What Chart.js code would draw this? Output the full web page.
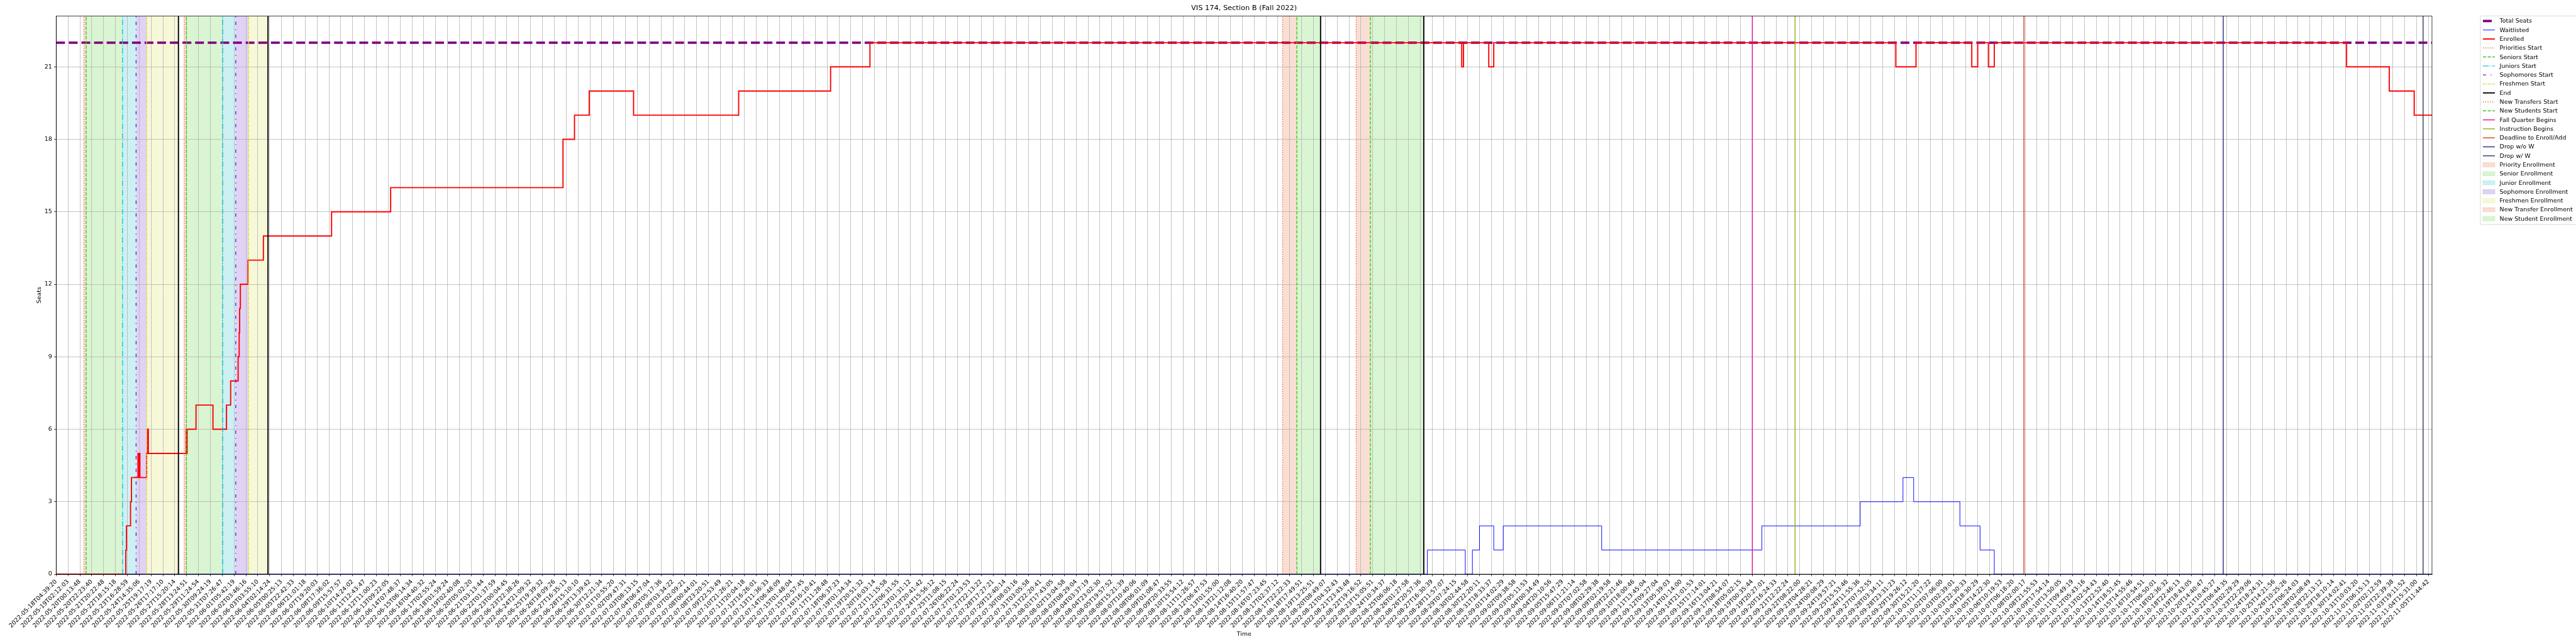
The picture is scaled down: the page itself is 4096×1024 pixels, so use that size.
<!DOCTYPE html>
<html>
<head>
<meta charset="utf-8">
<title>VIS 174, Section B (Fall 2022)</title>
<script src="https://cdn.jsdelivr.net/npm/chart.js@4.4.1/dist/chart.umd.min.js"></script>
<style>
  html, body { margin: 0; padding: 0; background: #ffffff; }
  #seatChart { display: block; }
</style>
</head>
<body>
<canvas id="seatChart" width="4096" height="1024"></canvas>
<script>
// x is measured in tick steps: tick i carries tickLabels[i]
const tickLabels = [
  '2022-05-18T04:39:20', '2022-05-19T02:12:03', '2022-05-20T00:13:48', '2022-05-20T22:23:40',
  '2022-05-21T20:22:48', '2022-05-22T18:15:18', '2022-05-23T16:28:59', '2022-05-24T14:35:06',
  '2022-05-25T19:17:19', '2022-05-26T17:17:10', '2022-05-27T15:20:14', '2022-05-28T13:24:51',
  '2022-05-29T11:24:54', '2022-05-30T09:24:19', '2022-05-31T07:26:47', '2022-06-01T05:42:19',
  '2022-06-02T03:46:16', '2022-06-03T03:55:10', '2022-06-04T02:14:24', '2022-06-05T00:25:13',
  '2022-06-05T22:42:33', '2022-06-06T21:01:18', '2022-06-07T19:20:03', '2022-06-08T17:36:02',
  '2022-06-09T15:57:57', '2022-06-10T14:24:02', '2022-06-11T12:43:47', '2022-06-12T11:00:23',
  '2022-06-13T09:22:05', '2022-06-14T07:48:37', '2022-06-15T06:14:34', '2022-06-16T04:40:32',
  '2022-06-17T02:55:24', '2022-06-18T01:59:24', '2022-06-19T02:40:08', '2022-06-20T05:02:20',
  '2022-06-21T03:13:44', '2022-06-22T01:37:59', '2022-06-23T00:04:45', '2022-06-23T22:38:26',
  '2022-06-24T21:09:32', '2022-06-25T19:39:32', '2022-06-26T18:09:26', '2022-06-27T16:35:13',
  '2022-06-28T15:10:10', '2022-06-29T13:39:42', '2022-06-30T12:21:34', '2022-07-01T10:55:20',
  '2022-07-02T09:47:31', '2022-07-03T08:13:15', '2022-07-04T06:47:04', '2022-07-05T05:17:36',
  '2022-07-06T03:34:22', '2022-07-07T02:09:21', '2022-07-08T00:44:01', '2022-07-08T23:20:51',
  '2022-07-09T22:53:49', '2022-07-10T21:26:21', '2022-07-11T20:04:18', '2022-07-12T16:26:01',
  '2022-07-13T11:36:33', '2022-07-14T06:48:09', '2022-07-15T01:48:04', '2022-07-15T20:57:45',
  '2022-07-16T16:10:41', '2022-07-17T11:28:48', '2022-07-18T06:37:23', '2022-07-19T01:34:34',
  '2022-07-19T20:51:32', '2022-07-20T16:03:14', '2022-07-21T11:15:58', '2022-07-22T06:31:55',
  '2022-07-23T01:31:12', '2022-07-23T20:41:42', '2022-07-24T15:56:12', '2022-07-25T11:08:15',
  '2022-07-26T06:22:24', '2022-07-27T01:23:53', '2022-07-27T22:13:22', '2022-07-28T17:27:21',
  '2022-07-29T12:40:14', '2022-07-30T08:03:16', '2022-07-31T03:05:58', '2022-07-31T22:20:41',
  '2022-08-01T17:43:05', '2022-08-02T13:04:58', '2022-08-03T08:29:04', '2022-08-04T03:37:19',
  '2022-08-04T23:02:30', '2022-08-05T19:57:52', '2022-08-06T15:21:39', '2022-08-07T10:40:06',
  '2022-08-08T06:01:09', '2022-08-09T01:08:47', '2022-08-09T20:33:55', '2022-08-10T15:54:12',
  '2022-08-11T11:26:57', '2022-08-12T06:47:53', '2022-08-13T01:55:00', '2022-08-13T21:12:08',
  '2022-08-14T16:40:20', '2022-08-15T11:57:47', '2022-08-16T07:23:45', '2022-08-17T02:37:12',
  '2022-08-17T22:22:33', '2022-08-18T17:49:51', '2022-08-19T13:25:51', '2022-08-20T08:49:07',
  '2022-08-21T04:32:43', '2022-08-21T23:43:48', '2022-08-22T19:16:52', '2022-08-23T15:05:51',
  '2022-08-24T10:34:37', '2022-08-25T06:06:18', '2022-08-26T01:27:58', '2022-08-26T20:57:36',
  '2022-08-27T16:30:39', '2022-08-28T11:57:07', '2022-08-29T07:24:15', '2022-08-30T02:44:58',
  '2022-08-30T22:20:11', '2022-08-31T18:33:37', '2022-09-01T14:02:29', '2022-09-02T09:38:58',
  '2022-09-03T05:11:53', '2022-09-04T00:34:49', '2022-09-04T20:10:56', '2022-09-05T15:47:29',
  '2022-09-06T11:21:14', '2022-09-07T07:02:58', '2022-09-08T02:29:38', '2022-09-09T02:19:58',
  '2022-09-09T22:21:46', '2022-09-10T18:00:46', '2022-09-11T13:45:04', '2022-09-12T09:27:04',
  '2022-09-13T05:39:03', '2022-09-14T01:14:00', '2022-09-14T21:01:53', '2022-09-15T17:14:01',
  '2022-09-16T13:04:21', '2022-09-17T08:54:07', '2022-09-18T05:02:15', '2022-09-19T00:35:44',
  '2022-09-19T20:27:01', '2022-09-20T16:24:33', '2022-09-21T12:22:24', '2022-09-22T08:22:00',
  '2022-09-23T04:28:21', '2022-09-24T00:08:29', '2022-09-24T19:57:21', '2022-09-25T15:53:46',
  '2022-09-26T11:55:36', '2022-09-27T07:52:55', '2022-09-28T03:34:11', '2022-09-28T23:31:23',
  '2022-09-29T19:26:12', '2022-09-30T15:21:20', '2022-10-01T11:17:22', '2022-10-02T07:06:00',
  '2022-10-03T02:39:01', '2022-10-03T22:30:33', '2022-10-04T18:30:29', '2022-10-05T14:22:30',
  '2022-10-06T10:19:53', '2022-10-07T06:18:20', '2022-10-08T02:00:17', '2022-10-08T21:55:53',
  '2022-10-09T17:54:14', '2022-10-10T13:50:05', '2022-10-11T09:49:19', '2022-10-12T05:43:16',
  '2022-10-13T02:54:43', '2022-10-13T22:52:40', '2022-10-14T18:51:45', '2022-10-15T14:55:46',
  '2022-10-16T10:54:51', '2022-10-17T06:50:01', '2022-10-18T02:36:32', '2022-10-18T22:46:13',
  '2022-10-19T18:43:05', '2022-10-20T14:40:47', '2022-10-21T10:45:27', '2022-10-22T06:44:35',
  '2022-10-23T02:29:29', '2022-10-23T22:29:06', '2022-10-24T18:24:31', '2022-10-25T14:21:56',
  '2022-10-26T10:25:26', '2022-10-27T06:24:03', '2022-10-28T02:08:49', '2022-10-28T22:13:12',
  '2022-10-29T18:10:14', '2022-10-30T14:02:41', '2022-10-31T10:03:20', '2022-11-01T06:15:13',
  '2022-11-02T02:12:59', '2022-11-02T22:39:38', '2022-11-03T19:11:52', '2022-11-04T15:31:00',
  '2022-11-05T11:44:42'
];
const xEnd = 200.3;

const yTicks = [0, 3, 6, 9, 12, 15, 18, 21];
const yTop = 23.1;

const totalSeats = 22;

// step lines: the value changes to seats[i] at at[i]
const enrolledAt = [0, 5.87, 5.93, 6.27, 6.35, 6.90, 6.94, 6.98, 7.06, 7.63, 7.69, 7.77,
  10.96, 11.00, 11.04, 11.79, 13.22, 14.36, 14.71, 15.34, 15.43, 15.47, 15.53, 16.17, 17.47,
  23.22, 28.20, 42.73, 43.70, 44.94, 48.68, 57.54, 65.29, 68.61,
  118.50, 118.65, 120.78, 121.20, 155.10, 156.80, 161.50, 162.00, 162.90, 163.40,
  193.10, 196.70, 198.80];
const enrolledSeats = [0, 1, 2, 3, 4, 5, 4, 5, 4, 5, 6, 5,
  6, 5, 6, 7, 6, 7, 8, 9, 10, 11, 12, 13, 14,
  15, 16, 18, 19, 20, 19, 20, 21, 22,
  21, 22, 21, 22, 21, 22, 21, 22, 21, 22,
  21, 20, 19];

const waitlistAt = [0, 115.6, 118.8, 119.4, 120.0, 121.2, 122.0, 130.3, 143.8, 152.1, 155.7, 156.6, 160.5, 162.2, 163.4];
const waitlistSeats = [0, 1, 0, 1, 2, 1, 2, 1, 2, 3, 4, 3, 2, 1, 0];

// enrollment pass markers (first pass, second pass)
const prioritiesStart = [2.34, 10.79];
const seniorsStart = [2.53, 10.98];
const juniorsStart = [5.60, 14.04];
const sophomoresStart = [6.74, 15.14];
const freshmenStart = [7.64, 16.22];
const endMarks = [10.31, 17.86, 106.6, 115.3];
const newTransfersStart = [103.4, 109.6];
const newStudentsStart = [104.6, 110.8];
const fallQuarterBegins = [143.0];
const instructionBegins = [146.6];
const enrollDeadline = [165.9];
const dropNoW = [182.7];
const dropWithW = [199.55];

const lw = 1.42;
const markerLines = [
  {label: 'Priorities Start', at: prioritiesStart, color: '#ef6c3a', width: lw, dash: [1, 1.65]},
  {label: 'Seniors Start', at: seniorsStart, color: '#3cc81e', width: lw, dash: [3.7, 1.6]},
  {label: 'Juniors Start', at: juniorsStart, color: '#12c6d6', width: lw, dash: [6.4, 1.6, 1, 1.6]},
  {label: 'Sophomores Start', at: sophomoresStart, color: '#6422d2', width: lw, dash: [3.7, 4.8, 1, 4.8]},
  {label: 'Freshmen Start', at: freshmenStart, color: '#dcdc3a', width: lw, dash: [2.5, 1, 1, 1]},
  {label: 'End', at: endMarks, color: '#000000', width: 1.9, dash: []},
  {label: 'New Transfers Start', at: newTransfersStart, color: '#ef6c3a', width: lw, dash: [1, 1.65]},
  {label: 'New Students Start', at: newStudentsStart, color: '#3cc81e', width: lw, dash: [3.7, 1.6]},
  {label: 'Fall Quarter Begins', at: fallQuarterBegins, color: '#e0109c', width: lw, dash: []},
  {label: 'Instruction Begins', at: instructionBegins, color: '#8cb414', width: lw, dash: []},
  {label: 'Deadline to Enroll/Add', at: enrollDeadline, color: '#d2401e', width: lw, dash: []},
  {label: 'Drop w/o W', at: dropNoW, color: '#2e2a88', width: lw, dash: []},
  {label: 'Drop w/ W', at: dropWithW, color: '#2e3c5c', width: lw, dash: []}
];

const bandFills = [
  {label: 'Priority Enrollment', from: prioritiesStart, to: seniorsStart, fill: '#f9ded3', edge: '#f3cbbb'},
  {label: 'Senior Enrollment', from: seniorsStart, to: juniorsStart, fill: '#d9f5d2', edge: '#c4edba'},
  {label: 'Junior Enrollment', from: juniorsStart, to: sophomoresStart, fill: '#cdf0f3', edge: '#b5e8ee'},
  {label: 'Sophomore Enrollment', from: sophomoresStart, to: freshmenStart, fill: '#e0d2f4', edge: '#cfbcee'},
  {label: 'Freshmen Enrollment', from: freshmenStart, to: endMarks.slice(0, 2), fill: '#f7f8d8', edge: '#eff1bd'},
  {label: 'New Transfer Enrollment', from: newTransfersStart, to: newStudentsStart, fill: '#f9ded3', edge: '#f3cbbb'},
  {label: 'New Student Enrollment', from: newStudentsStart, to: endMarks.slice(2), fill: '#d9f5d2', edge: '#c4edba'}
];

const seriesStyles = [
  {label: 'Total Seats', color: '#800080', width: 3.79, dash: [3.7, 1.6]},
  {label: 'Waitlisted', color: '#0000ff', width: 0.95, dash: []},
  {label: 'Enrolled', color: '#ff0000', width: 1.9, dash: []}
];

const dashFor = s => s.dash.map(d => d * s.width);

const stepPoints = (at, seats) => {
  const pts = at.map((t, i) => ({x: t, y: seats[i]}));
  pts.push({x: xEnd, y: seats[seats.length - 1]});
  return pts;
};

// bands sit under the grid
const backdrop = {
  id: 'backdrop',
  beforeDraw(chart) {
    const {ctx, chartArea: a, scales: {x}} = chart;
    ctx.save();
    ctx.fillStyle = '#ffffff';
    ctx.fillRect(0, 0, chart.width, chart.height);
    ctx.beginPath();
    ctx.rect(a.left, a.top, a.width, a.height);
    ctx.clip();
    bandFills.forEach(b => {
      ctx.fillStyle = b.fill;
      b.from.forEach((s, i) => {
        const x0 = x.getPixelForValue(s);
        const x1 = x.getPixelForValue(b.to[i]);
        ctx.fillRect(x0, a.top, x1 - x0, a.height);
      });
    });
    ctx.restore();
  }
};

const drawLegend = (ctx) => {
  const rows = [...seriesStyles, ...markerLines, ...bandFills];
  const left = 3944, top = 25.3, first = 33.4, gap = 14.29;
  const bottom = first + (rows.length - 1) * gap + 9.3;
  ctx.save();
  ctx.beginPath();
  if (ctx.roundRect) ctx.roundRect(left, top, 4120 - left, bottom - top, 1.9);
  else ctx.rect(left, top, 4120 - left, bottom - top);
  ctx.fillStyle = 'rgba(255,255,255,0.8)';
  ctx.fill();
  ctx.strokeStyle = '#cccccc';
  ctx.lineWidth = 0.75;
  ctx.stroke();
  ctx.font = '9.47px "DejaVu Sans"';
  ctx.textBaseline = 'middle';
  ctx.textAlign = 'left';
  rows.forEach((r, i) => {
    const y = first + i * gap;
    if (r.fill) {
      ctx.setLineDash([]);
      ctx.fillStyle = r.fill;
      ctx.fillRect(3948, y - 3.3, 19, 6.6);
      ctx.strokeStyle = r.edge;
      ctx.lineWidth = 0.7;
      ctx.strokeRect(3948, y - 3.3, 19, 6.6);
    } else {
      ctx.strokeStyle = r.color;
      ctx.lineWidth = r.width;
      ctx.setLineDash(dashFor(r));
      ctx.beginPath();
      ctx.moveTo(3948, y);
      ctx.lineTo(3967, y);
      ctx.stroke();
    }
    ctx.fillStyle = '#000000';
    ctx.fillText(r.label, 3974.6, y + 0.5);
  });
  ctx.restore();
};

const markers = {
  id: 'markers',
  afterDatasetsDraw(chart) {
    const {ctx, chartArea: a, scales: {x}} = chart;
    ctx.save();
    ctx.beginPath();
    ctx.rect(a.left, a.top, a.width, a.height);
    ctx.clip();
    markerLines.forEach(m => {
      ctx.strokeStyle = m.color;
      ctx.lineWidth = m.width;
      ctx.setLineDash(dashFor(m));
      m.at.forEach(t => {
        const px = x.getPixelForValue(t);
        ctx.beginPath();
        ctx.moveTo(px, a.bottom);
        ctx.lineTo(px, a.top);
        ctx.stroke();
      });
    });
    ctx.restore();
  },
  afterDraw(chart) {
    const {ctx, chartArea: a} = chart;
    ctx.save();
    ctx.strokeStyle = '#000000';
    ctx.lineWidth = 0.75;
    ctx.strokeRect(a.left, a.top, a.width, a.height);
    ctx.restore();
    drawLegend(ctx);
  }
};

Chart.defaults.font.family = '"DejaVu Sans", sans-serif';
Chart.defaults.color = '#000000';

const axisFont = {size: 9.47};

new Chart(document.getElementById('seatChart'), {
  type: 'line',
  data: {
    datasets: [
      {
        label: 'Total Seats',
        data: [{x: 0, y: totalSeats}, {x: xEnd, y: totalSeats}],
        borderColor: seriesStyles[0].color,
        borderWidth: seriesStyles[0].width,
        borderDash: dashFor(seriesStyles[0]),
        order: 3
      },
      {
        label: 'Waitlisted',
        data: stepPoints(waitlistAt, waitlistSeats),
        stepped: 'before',
        borderColor: seriesStyles[1].color,
        borderWidth: seriesStyles[1].width,
        order: 2
      },
      {
        label: 'Enrolled',
        data: stepPoints(enrolledAt, enrolledSeats),
        stepped: 'before',
        borderColor: seriesStyles[2].color,
        borderWidth: seriesStyles[2].width,
        order: 1
      }
    ]
  },
  options: {
    responsive: false,
    animation: false,
    devicePixelRatio: 1,
    layout: {padding: {left: 53, right: 229, top: 0, bottom: 6}, autoPadding: false},
    elements: {point: {radius: 0}, line: {tension: 0, fill: false}},
    datasets: {line: {clip: 0}},
    plugins: {
      legend: {display: false},
      tooltip: {enabled: false},
      title: {
        display: true,
        text: 'VIS 174, Section B (Fall 2022)',
        fullSize: false,
        color: '#000000',
        font: {size: 11.37, weight: 'normal'},
        padding: {top: 6, bottom: 6}
      }
    },
    scales: {
      x: {
        type: 'linear',
        min: 0,
        max: xEnd,
        afterBuildTicks: axis => { axis.ticks = tickLabels.map((_, i) => ({value: i})); },
        afterFit: axis => { axis.height = 105; },
        ticks: {
          autoSkip: false,
          minRotation: 45,
          maxRotation: 45,
          padding: 3.3,
          color: '#000000',
          font: axisFont,
          callback: v => tickLabels[Math.round(v)]
        },
        grid: {color: '#b0b0b0', lineWidth: 0.75, tickLength: 3.3, tickColor: '#000000', tickWidth: 0.75},
        border: {display: true, color: '#000000', width: 0.75},
        title: {display: true, text: 'Time', color: '#000000', font: axisFont, padding: {top: 4, bottom: 4}}
      },
      y: {
        type: 'linear',
        min: 0,
        max: yTop,
        afterBuildTicks: axis => { axis.ticks = yTicks.map(v => ({value: v})); },
        afterFit: axis => { axis.width = 36.3; },
        ticks: {padding: 3.3, color: '#000000', font: axisFont},
        grid: {color: '#b0b0b0', lineWidth: 0.75, tickLength: 3.3, tickColor: '#000000', tickWidth: 0.75},
        border: {display: true, color: '#000000', width: 0.75},
        title: {display: true, text: 'Seats', color: '#000000', font: axisFont, padding: {top: 4, bottom: 4}}
      }
    }
  },
  plugins: [backdrop, markers]
});
</script>
</body>
</html>
